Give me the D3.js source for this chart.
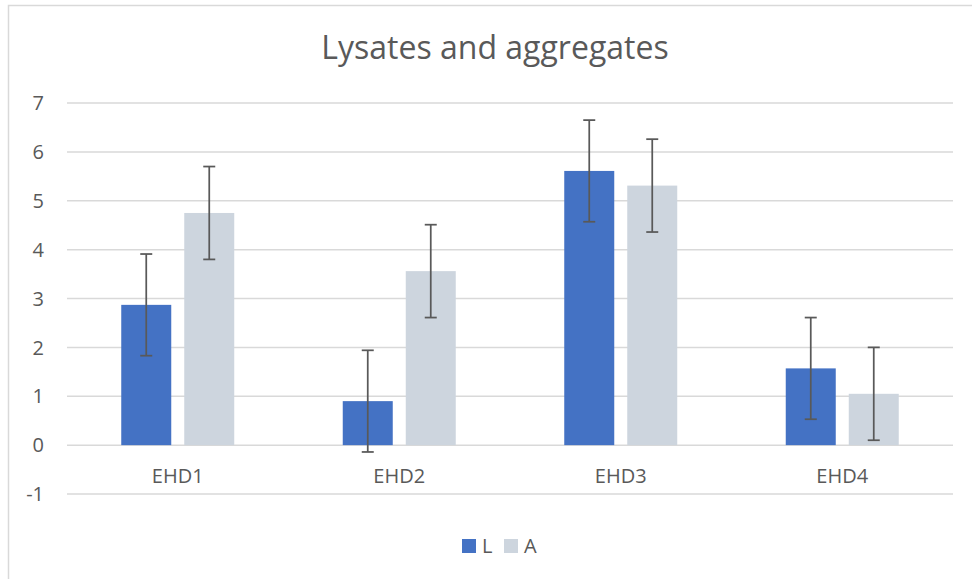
<!DOCTYPE html>
<html>
<head>
<meta charset="utf-8">
<script src="https://cdn.jsdelivr.net/npm/d3@7/dist/d3.min.js"></script>
<style>
  body { margin: 0; background: #fff; }
  text { font-family: "Open Sans", sans-serif; fill: #595959; }
</style>
</head>
<body>
<div id="chart"></div>
<script>
var categories = ["EHD1", "EHD2", "EHD3", "EHD4"];
var seriesNames = ["L", "A"];
var lysates = [2.87, 0.90, 5.61, 1.57];
var aggregates = [4.75, 3.56, 5.31, 1.05];
var lysatesErr = [1.04, 1.04, 1.04, 1.04];
var aggregatesErr = [0.95, 0.95, 0.95, 0.95];
var yTicks = [-1, 0, 1, 2, 3, 4, 5, 6, 7];
var colors = ["#4472C4", "#CDD5DE"];

var width = 972, height = 579;
var margin = { top: 103, right: 19, bottom: 85, left: 67 };

var svg = d3.select("#chart").append("svg")
    .attr("width", width)
    .attr("height", height);

// chart area border (right/bottom fall outside the picture)
svg.append("rect")
    .attr("x", 8.5).attr("y", 5.5)
    .attr("width", width + 20).attr("height", height + 20)
    .attr("fill", "none")
    .attr("stroke", "#D9D9D9")
    .attr("stroke-width", 1.5);

svg.append("text")
    .attr("x", 495).attr("y", 59)
    .attr("text-anchor", "middle")
    .style("font-size", "32px")
    .text("Lysates and aggregates");

var x0 = d3.scaleBand()
    .domain(categories)
    .range([margin.left, width - margin.right]);

var y = d3.scaleLinear()
    .domain([-1, 7])
    .range([height - margin.bottom, margin.top]);

// gridlines
svg.append("g")
    .selectAll("line")
    .data(yTicks)
    .enter()
    .append("line")
    .attr("x1", margin.left)
    .attr("x2", width - margin.right)
    .attr("y1", d => y(d))
    .attr("y2", d => y(d))
    .attr("stroke", "#D9D9D9")
    .attr("stroke-width", 1.5);

svg.append("g")
    .selectAll("text")
    .data(yTicks)
    .enter()
    .append("text")
    .attr("x", 44)
    .attr("y", d => y(d))
    .attr("dy", "0.36em")
    .attr("text-anchor", "end")
    .style("font-size", "20px")
    .text(d => d);

var barW = 50, gap = 13;
var series = [
    { name: seriesNames[0], values: lysates, err: lysatesErr, color: colors[0] },
    { name: seriesNames[1], values: aggregates, err: aggregatesErr, color: colors[1] }
];

function barX(cat, s) {
    var c = x0(cat) + x0.bandwidth() / 2;
    return s === 0 ? c - gap / 2 - barW : c + gap / 2;
}

series.forEach(function (s, si) {
    var g = svg.append("g");
    g.selectAll("rect")
        .data(categories)
        .enter()
        .append("rect")
        .attr("x", d => barX(d, si))
        .attr("width", barW)
        .attr("y", (d, i) => y(Math.max(0, s.values[i])))
        .attr("height", (d, i) => Math.abs(y(s.values[i]) - y(0)))
        .attr("fill", s.color);
});

// error bars
series.forEach(function (s, si) {
    var g = svg.append("g")
        .attr("stroke", "#595959")
        .attr("stroke-width", 1.75);
    categories.forEach(function (cat, i) {
        var cx = barX(cat, si) + barW / 2;
        var hi = y(s.values[i] + s.err[i]);
        var lo = y(s.values[i] - s.err[i]);
        g.append("line").attr("x1", cx).attr("x2", cx).attr("y1", hi).attr("y2", lo);
        g.append("line").attr("x1", cx - 6).attr("x2", cx + 6).attr("y1", hi).attr("y2", hi);
        g.append("line").attr("x1", cx - 6).attr("x2", cx + 6).attr("y1", lo).attr("y2", lo);
    });
});

svg.append("g")
    .selectAll("text")
    .data(categories)
    .enter()
    .append("text")
    .attr("x", d => x0(d) + x0.bandwidth() / 2)
    .attr("y", 483)
    .attr("text-anchor", "middle")
    .style("font-size", "20px")
    .text(d => d);

// legend
var legend = svg.append("g");
var legendX = [462, 504];
series.forEach(function (s, si) {
    legend.append("rect")
        .attr("x", legendX[si]).attr("y", 539)
        .attr("width", 14).attr("height", 14)
        .attr("fill", s.color);
    legend.append("text")
        .attr("x", legendX[si] + 20).attr("y", 553)
        .style("font-size", "20px")
        .text(s.name);
});
</script>
</body>
</html>
